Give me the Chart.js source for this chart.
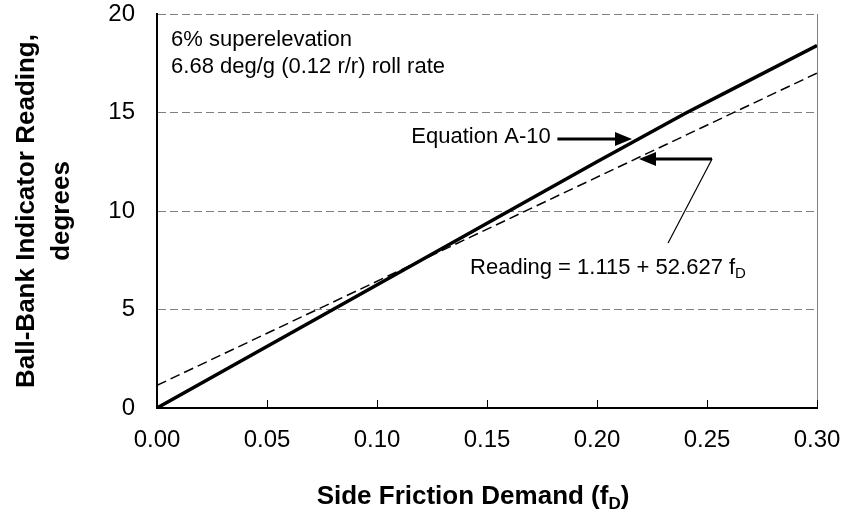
<!DOCTYPE html>
<html>
<head>
<meta charset="utf-8">
<title>Ball-Bank Indicator Reading vs Side Friction Demand</title>
<style>
  html, body { margin: 0; padding: 0; background: #fff; }
</style>
</head>
<body>
<canvas id="chart" width="844" height="527"></canvas>

<script src="https://cdn.jsdelivr.net/npm/chart.js@4/dist/chart.umd.min.js"></script>
<script>
  // Equation A-10 curve
  var fD = [0, 0.04, 0.08, 0.12, 0.16, 0.20, 0.24, 0.26, 0.30];
  var eqA10 = [0, 2.5, 5.0, 7.5, 10.0, 12.5, 14.95, 16.1, 18.4];

  // regression line end points
  var fitX = [0, 0.30];
  var fitY = [1.15, 17.0];

  var xTicks = [0, 0.05, 0.10, 0.15, 0.20, 0.25, 0.30];
  var yTicks = [0, 5, 10, 15, 20];

  var FONT = "'Liberation Sans', Arial, sans-serif";

  // where the notes and arrows sit, in data units
  var notes = {
    topLeft: { x: 0.0064, y1: 18.68, y2: 17.33 },
    eqLabel: { x: 0.179, y: 13.75 },
    eqArrow: { x1: 0.182, x2: 0.2159, y: 13.65 },
    fitArrow: { tip: 0.2191, corner: 0.2523, y: 12.64, endX: 0.2323, endY: 8.38 },
    fitLabel: { x: 0.1423, y: 7.1 }
  };

  function pts(xs, ys) {
    return xs.map(function (v, i) { return { x: v, y: ys[i] }; });
  }

  // text with an optional subscript part
  function subText(ctx, parts, x, y, size, weight, align) {
    var total = 0;
    parts.forEach(function (p) {
      ctx.font = weight + ' ' + (p.sub ? Math.round(size * 0.66) : size) + 'px ' + FONT;
      p.w = ctx.measureText(p.t).width;
      total += p.w;
    });
    var cx = x;
    if (align === 'center') cx = x - total / 2;
    if (align === 'right') cx = x - total;
    ctx.textAlign = 'left';
    ctx.textBaseline = 'middle';
    parts.forEach(function (p) {
      ctx.font = weight + ' ' + (p.sub ? Math.round(size * 0.66) : size) + 'px ' + FONT;
      ctx.fillText(p.t, cx, p.sub ? y + size * 0.28 : y);
      cx += p.w;
    });
  }

  function arrowHead(ctx, tipX, y, dir) {
    ctx.beginPath();
    ctx.moveTo(tipX, y);
    ctx.lineTo(tipX - dir * 17, y - 7);
    ctx.lineTo(tipX - dir * 17, y + 7);
    ctx.closePath();
    ctx.fill();
  }

  var extras = {
    id: 'extras',
    afterDraw: function (chart) {
      var ctx = chart.ctx, sx = chart.scales.x, sy = chart.scales.y, a = chart.chartArea;
      ctx.save();

      // right frame
      ctx.strokeStyle = '#808080';
      ctx.lineWidth = 1;
      ctx.beginPath();
      ctx.moveTo(a.right + 0.5, a.top);
      ctx.lineTo(a.right + 0.5, a.bottom);
      ctx.stroke();

      // inward tick marks on the x axis
      ctx.strokeStyle = '#000';
      ctx.beginPath();
      xTicks.forEach(function (v) {
        var px = Math.round(sx.getPixelForValue(v)) + 0.5;
        ctx.moveTo(px, a.bottom);
        ctx.lineTo(px, a.bottom - 8);
      });
      ctx.stroke();

      ctx.fillStyle = '#000';

      // note in the top left
      ctx.font = '22px ' + FONT;
      ctx.textAlign = 'left';
      ctx.textBaseline = 'middle';
      ctx.fillText('6% superelevation', sx.getPixelForValue(notes.topLeft.x), sy.getPixelForValue(notes.topLeft.y1));
      ctx.fillText('6.68 deg/g (0.12 r/r) roll rate', sx.getPixelForValue(notes.topLeft.x), sy.getPixelForValue(notes.topLeft.y2));

      // Equation A-10 label + arrow
      ctx.textAlign = 'right';
      ctx.fillText('Equation A-10', sx.getPixelForValue(notes.eqLabel.x), sy.getPixelForValue(notes.eqLabel.y));
      var ay = sy.getPixelForValue(notes.eqArrow.y);
      var ax2 = sx.getPixelForValue(notes.eqArrow.x2);
      ctx.lineWidth = 3;
      ctx.beginPath();
      ctx.moveTo(sx.getPixelForValue(notes.eqArrow.x1), ay);
      ctx.lineTo(ax2 - 12, ay);
      ctx.stroke();
      arrowHead(ctx, ax2, ay, 1);

      // regression label + bent arrow
      var f = notes.fitArrow;
      var fy = sy.getPixelForValue(f.y);
      var tip = sx.getPixelForValue(f.tip);
      var corner = sx.getPixelForValue(f.corner);
      ctx.lineWidth = 3;
      ctx.beginPath();
      ctx.moveTo(corner, fy);
      ctx.lineTo(tip + 12, fy);
      ctx.stroke();
      arrowHead(ctx, tip, fy, -1);
      ctx.lineWidth = 1.2;
      ctx.beginPath();
      ctx.moveTo(corner, fy);
      ctx.lineTo(sx.getPixelForValue(f.endX), sy.getPixelForValue(f.endY));
      ctx.stroke();

      subText(ctx, [{ t: 'Reading = 1.115 + 52.627 f' }, { t: 'D', sub: true }],
        sx.getPixelForValue(notes.fitLabel.x), sy.getPixelForValue(notes.fitLabel.y), 22, 'normal', 'left');

      // x axis title
      subText(ctx, [{ t: 'Side Friction Demand (f' }, { t: 'D', sub: true }, { t: ')' }],
        473, 497, 26, 'bold', 'center');

      ctx.restore();
    }
  };

  var ctx = document.getElementById('chart').getContext('2d');
  var chart = new Chart(ctx, {
    type: 'line',
    data: {
      datasets: [{
        label: 'Equation A-10',
        data: pts(fD, eqA10),
        borderColor: '#000',
        borderWidth: 3.5,
        pointRadius: 0,
        tension: 0
      }, {
        label: 'Reading = 1.115 + 52.627 fD',
        data: pts(fitX, fitY),
        borderColor: '#000',
        borderWidth: 1.5,
        borderDash: [10, 5],
        pointRadius: 0,
        tension: 0
      }]
    },
    options: {
      responsive: false,
      animation: false,
      layout: { padding: { top: 14, right: 27, left: 0, bottom: 0 } },
      plugins: {
        legend: { display: false },
        tooltip: { enabled: false }
      },
      scales: {
        x: {
          type: 'linear',
          min: 0,
          max: 0.30,
          afterBuildTicks: function (s) { s.ticks = xTicks.map(function (v) { return { value: v }; }); },
          afterFit: function (s) { s.height = 119; s.paddingLeft = 0; s.paddingRight = 0; },
          grid: { display: false, drawTicks: false },
          border: { display: true, color: '#000', width: 2 },
          ticks: {
            color: '#000',
            padding: 18,
            maxRotation: 0,
            font: { family: FONT, size: 24 },
            callback: function (v) { return Number(v).toFixed(2); }
          }
        },
        y: {
          type: 'linear',
          min: 0,
          max: 20,
          afterBuildTicks: function (s) { s.ticks = yTicks.map(function (v) { return { value: v }; }); },
          afterFit: function (s) { s.width = 157; s.paddingTop = 0; s.paddingBottom = 0; },
          grid: { color: '#808080', lineWidth: 1, drawTicks: false },
          border: { display: true, color: '#000', width: 2, dash: [8, 4] },
          ticks: {
            color: '#000',
            padding: 22,
            font: { family: FONT, size: 24 }
          },
          title: {
            display: true,
            text: ['Ball-Bank Indicator Reading,', 'degrees'],
            color: '#000',
            font: { family: FONT, size: 26, weight: 'bold', lineHeight: 1.35 },
            padding: { top: 9, bottom: 0 }
          }
        }
      }
    },
    plugins: [extras]
  });
</script>
</body>
</html>
